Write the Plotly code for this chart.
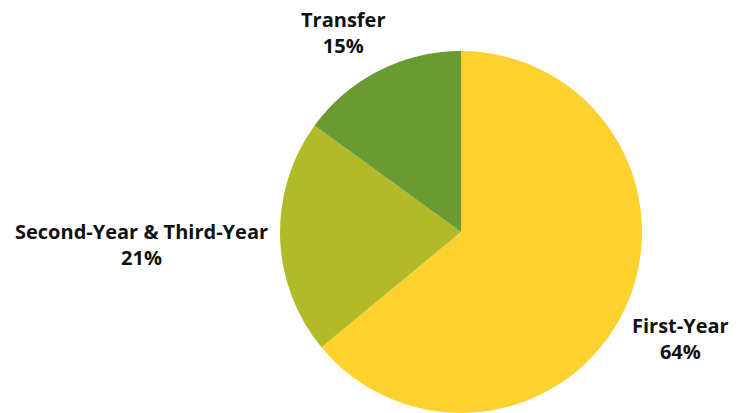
import plotly.graph_objects as go

labels = ["First-Year", "Second-Year & Third-Year", "Transfer"]
values = [64, 21, 15]
colors = ["#FDD22E", "#B2BA2A", "#6A9A32"]
# label anchor positions in page pixels (center of two-line text block)
label_pos = [(680, 338), (141, 244), (343, 32)]

W, H = 747, 413
OFF = 8  # page body margin
cx, cy, r = 461 - OFF, 232 - OFF, 181

fig = go.Figure(go.Pie(
    labels=labels, values=values, sort=False, direction="clockwise", rotation=0,
    marker=dict(colors=colors, line=dict(width=0)),
    textinfo="none", hoverinfo="label+percent", showlegend=False,
    domain=dict(x=[(cx - r) / W, (cx + r) / W], y=[1 - (cy + r) / H, 1 - (cy - r) / H]),
))

total = sum(values)
for lab, v, (px, py) in zip(labels, values, label_pos):
    fig.add_annotation(
        x=(px - OFF) / W, y=1 - (py - OFF) / H, xref="paper", yref="paper",
        text=f"<b>{lab}<br>{round(100 * v / total)}%</b>", showarrow=False,
        xanchor="center", yanchor="middle", align="center",
        font=dict(family="Open Sans", size=20, color="#111111"),
    )

fig.update_layout(width=W, height=H, margin=dict(l=0, r=0, t=0, b=0),
                  paper_bgcolor="white", plot_bgcolor="white")
fig.write_html("out.html")
